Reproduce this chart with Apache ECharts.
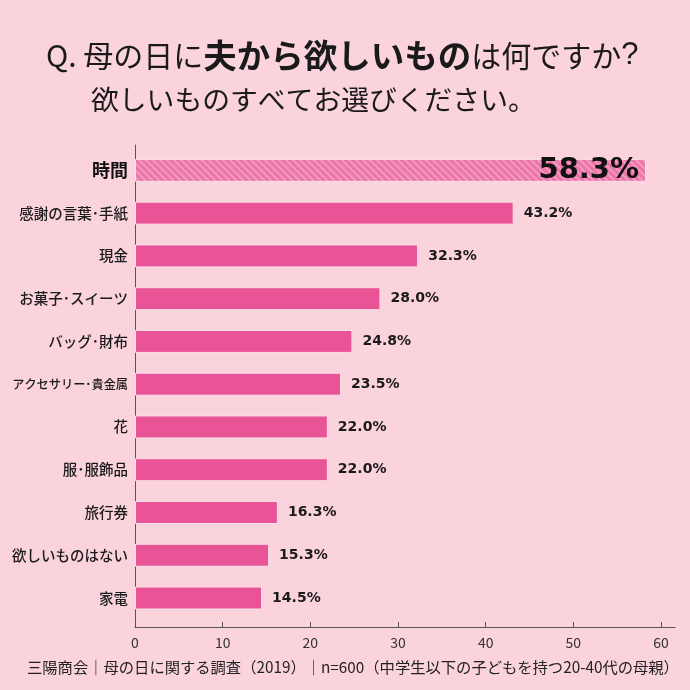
<!DOCTYPE html>
<html>
<head>
<meta charset="utf-8">
<script src="https://cdn.jsdelivr.net/npm/echarts@6/dist/echarts.min.js"></script>
<style>
  html, body { margin: 0; padding: 0; background: #fad3dd; }
  #chart { width: 690px; height: 690px; }
</style>
</head>
<body>
<div id="chart"></div>
<script>
var categories = ['時間', '感謝の言葉･手紙', '現金', 'お菓子･スイーツ', 'バッグ･財布',
    'アクセサリー･貴金属', '花', '服･服飾品', '旅行券', '欲しいものはない', '家電'];
var values = [58.3, 43.2, 32.3, 28.0, 24.8, 23.5, 22.0, 22.0, 16.3, 15.3, 14.5];
var xTicks = [0, 10, 20, 30, 40, 50, 60];

var FONT = '"Noto Sans CJK JP", "Noto Sans", sans-serif';
var NUMFONT = '"DejaVu Sans", "Liberation Sans", sans-serif';

// hatch pattern for the top bar
function makeHatch() {
    var c = document.createElement('canvas');
    c.width = 7; c.height = 7;
    var ctx = c.getContext('2d');
    ctx.fillStyle = '#ec78aa';
    ctx.fillRect(0, 0, 7, 7);
    ctx.strokeStyle = '#f5a3c6';
    ctx.lineWidth = 1.4;
    ctx.beginPath();
    ctx.moveTo(-2, -2); ctx.lineTo(9, 9);
    ctx.moveTo(-6, 1); ctx.lineTo(5, 12);
    ctx.moveTo(1, -6); ctx.lineTo(12, 5);
    ctx.stroke();
    return c;
}

var seriesData = [];
for (var i = 0; i < values.length; i++) {
    var item = { value: values[i] };
    if (i == 0) {
        item.itemStyle = { color: { image: makeHatch(), repeat: 'repeat' } };
        item.label = {
            position: 'insideRight',
            distance: 7,
            fontSize: 29,
            fontWeight: 'bold',
            color: '#111'
        };
    }
    seriesData.push(item);
}

var myChart = echarts.init(document.getElementById('chart'));
var option = {
    backgroundColor: '#fad3dd',
    textStyle: { fontFamily: FONT },
    title: [{
        left: 41,
        top: 34,
        text: '{r|Q. 母の日に}{b|夫から欲しいもの}{r|は何ですか}{q|?}',
        textStyle: {
            rich: {
                r: { fontFamily: FONT, fontSize: 30, fontWeight: 'normal', color: '#1a1a1a' },
                b: { fontFamily: FONT, fontSize: 33.5, fontWeight: 'bold', color: '#1a1a1a' },
                q: { fontFamily: '"Liberation Sans", sans-serif', fontSize: 31, fontWeight: 'normal', color: '#1a1a1a' }
            }
        }
    }, {
        left: 86,
        top: 81,
        text: '欲しいものすべてお選びください。',
        textStyle: { fontFamily: FONT, fontSize: 27.8, fontWeight: 'normal', color: '#1a1a1a' }
    }, {
        left: 22,
        top: 655,
        text: '三陽商会｜母の日に関する調査（2019）｜n=600（中学生以下の子どもを持つ20-40代の母親）',
        textStyle: { fontFamily: FONT, fontSize: 15.3, fontWeight: 'normal', color: '#222' }
    }],
    grid: [{
        // bars and category labels
        left: 135,
        right: 15,
        top: 149,
        bottom: 70.6,
        outerBoundsMode: 'none'
    }, {
        // outer frame carrying the axis lines
        left: 135,
        right: 15,
        top: 145,
        bottom: 63,
        outerBoundsMode: 'none'
    }],
    xAxis: [{
        gridIndex: 0,
        type: 'value',
        min: 0,
        max: 61.6,
        show: false
    }, {
        gridIndex: 1,
        type: 'value',
        min: 0,
        max: 61.6,
        interval: 10,
        splitLine: { show: false },
        axisLine: { show: true, lineStyle: { color: '#555', width: 1 } },
        axisTick: { show: true, inside: true, length: 5, customValues: xTicks,
            lineStyle: { color: '#555' } },
        axisLabel: { customValues: xTicks, fontSize: 14, color: '#333', margin: 9 }
    }],
    yAxis: [{
        gridIndex: 0,
        type: 'category',
        data: categories,
        inverse: true,
        axisLine: { show: false },
        axisTick: { show: false },
        axisLabel: {
            interval: 0,
            margin: 7,
            fontSize: 14.5,
            fontWeight: 500,
            color: '#1a1a1a',
            formatter: function (v, idx) {
                if (v == '時間') return '{big|' + v + '}';
                if (v.length > 9) return '{sm|' + v + '}';
                return v;
            },
            rich: {
                big: { fontSize: 18, fontWeight: 'bold', color: '#111', fontFamily: FONT },
                sm: { fontSize: 12.2, fontWeight: 500, color: '#1a1a1a', fontFamily: FONT }
            }
        }
    }, {
        gridIndex: 1,
        type: 'value',
        min: 0,
        max: 1,
        axisLine: { show: true, lineStyle: { color: '#555', width: 1 } },
        axisTick: { show: false },
        axisLabel: { show: false },
        splitLine: { show: false }
    }],
    series: [{
        type: 'bar',
        xAxisIndex: 0,
        yAxisIndex: 0,
        data: seriesData,
        barWidth: 23,
        itemStyle: {
            color: '#e85495',
            borderColor: '#fbe0ea',
            borderWidth: 1
        },
        label: {
            show: true,
            position: 'right',
            distance: 10,
            fontFamily: NUMFONT,
            fontSize: 14,
            fontWeight: 'bold',
            color: '#1a1a1a',
            formatter: function (p) {
                return p.value.toFixed(1) + '%';
            }
        },
        silent: true
    }]
};
myChart.setOption(option);
</script>
</body>
</html>
